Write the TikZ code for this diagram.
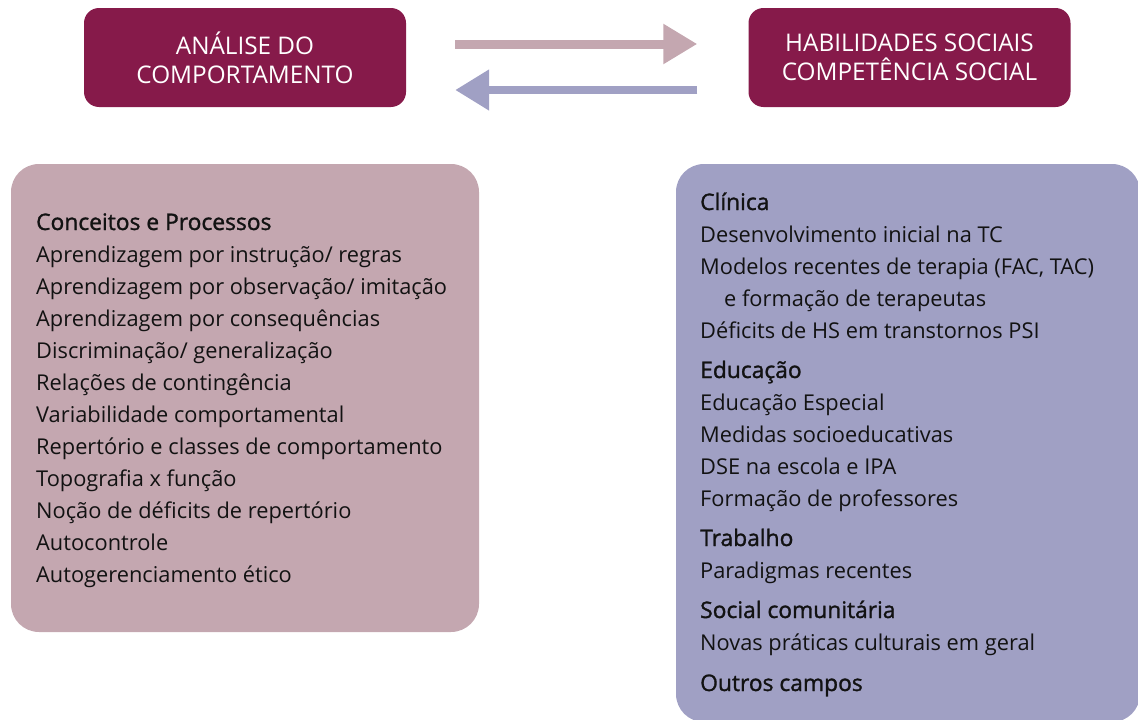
\documentclass[tikz,border=0pt]{standalone}
\usepackage{fontspec}
\setmainfont{Open Sans}
\newfontfamily\headfont{Open Sans}[FakeBold=1.3]
\usetikzlibrary{arrows.meta}
\definecolor{wine}{RGB}{134,26,74}
\definecolor{rosebox}{RGB}{196,167,176}
\definecolor{lavbox}{RGB}{160,160,196}
\definecolor{ink}{RGB}{18,18,18}
\tikzset{
  topbox/.style={fill=wine, rounded corners=15pt, minimum width=322pt, minimum height=99pt, inner sep=0pt, text=white, align=center, font=\fontsize{24.3}{29}\selectfont},
  bigbox/.style={rounded corners=28pt, inner sep=0pt},
  line/.style={anchor=base west, inner sep=0pt, text=ink, font=\fontsize{21.8}{25}\selectfont},
  head/.style={anchor=base west, inner sep=0pt, text=ink, font=\fontsize{22.8}{25}\selectfont\headfont},
  fwd/.style={draw=rosebox, line width=9pt, -{Triangle[length=34pt,width=38pt]}},
  bwd/.style={draw=lavbox, line width=8pt, -{Triangle[length=34pt,width=39pt]}}
}
\begin{document}
\begin{tikzpicture}[x=1pt,y=-1pt]
\useasboundingbox (0,0) rectangle (1138,720);
\node[topbox] (abc) at (245,57.5) {ANÁLISE DO\\COMPORTAMENTO};
\node[topbox] (hs) at (909.5,57.5) {HABILIDADES SOCIAIS\\COMPETÊNCIA SOCIAL};
\draw[fwd, shorten <=49pt, shorten >=51pt] ([yshift=13.5pt]abc.east) -- ([yshift=13.5pt]hs.west);
\draw[bwd, shorten <=51pt, shorten >=49pt] ([yshift=-32.5pt]hs.west) -- ([yshift=-32.5pt]abc.east);
\node[bigbox, fill=rosebox, minimum width=468pt, minimum height=468pt] (left) at (245,398) {};
\node[bigbox, fill=lavbox, minimum width=464pt, minimum height=558pt] (right) at (908,443) {};
% left column
\node[head] (l0) at (36,230) {Conceitos e Processos};
\node[line] (l1) at (36,262) {Aprendizagem por instrução/ regras};
\node[line] (l2) at (36,294) {Aprendizagem por observação/ imitação};
\node[line] (l3) at (36,326) {Aprendizagem por consequências};
\node[line] (l4) at (36,358) {Discriminação/ generalização};
\node[line] (l5) at (36,390) {Relações de contingência};
\node[line] (l6) at (36,422) {Variabilidade comportamental};
\node[line] (l7) at (36,454) {Repertório e classes de comportamento};
\node[line] (l8) at (36,486) {Topografia x função};
\node[line] (l9) at (36,518) {Noção de déficits de repertório};
\node[line] (l10) at (36,550) {Autocontrole};
\node[line] (l11) at (36,582) {Autogerenciamento ético};
% right column
\node[head] (r0) at (700,210) {Clínica};
\node[line] (r1) at (700,242) {Desenvolvimento inicial na TC};
\node[line] (r2) at (700,274) {Modelos recentes de terapia (FAC, TAC)};
\node[line] (r3) at (724,306) {e formação de terapeutas};
\node[line] (r4) at (700,338) {Déficits de HS em transtornos PSI};
\node[head] (r5) at (700,378) {Educação};
\node[line] (r6) at (700,410) {Educação Especial};
\node[line] (r7) at (700,442) {Medidas socioeducativas};
\node[line] (r8) at (700,474) {DSE na escola e IPA};
\node[line] (r9) at (700,506) {Formação de professores};
\node[head] (r10) at (700,546) {Trabalho};
\node[line] (r11) at (700,578) {Paradigmas recentes};
\node[head] (r12) at (700,618) {Social comunitária};
\node[line] (r13) at (700,650) {Novas práticas culturais em geral};
\node[head] (r14) at (700,691) {Outros campos};
\end{tikzpicture}
\end{document}
